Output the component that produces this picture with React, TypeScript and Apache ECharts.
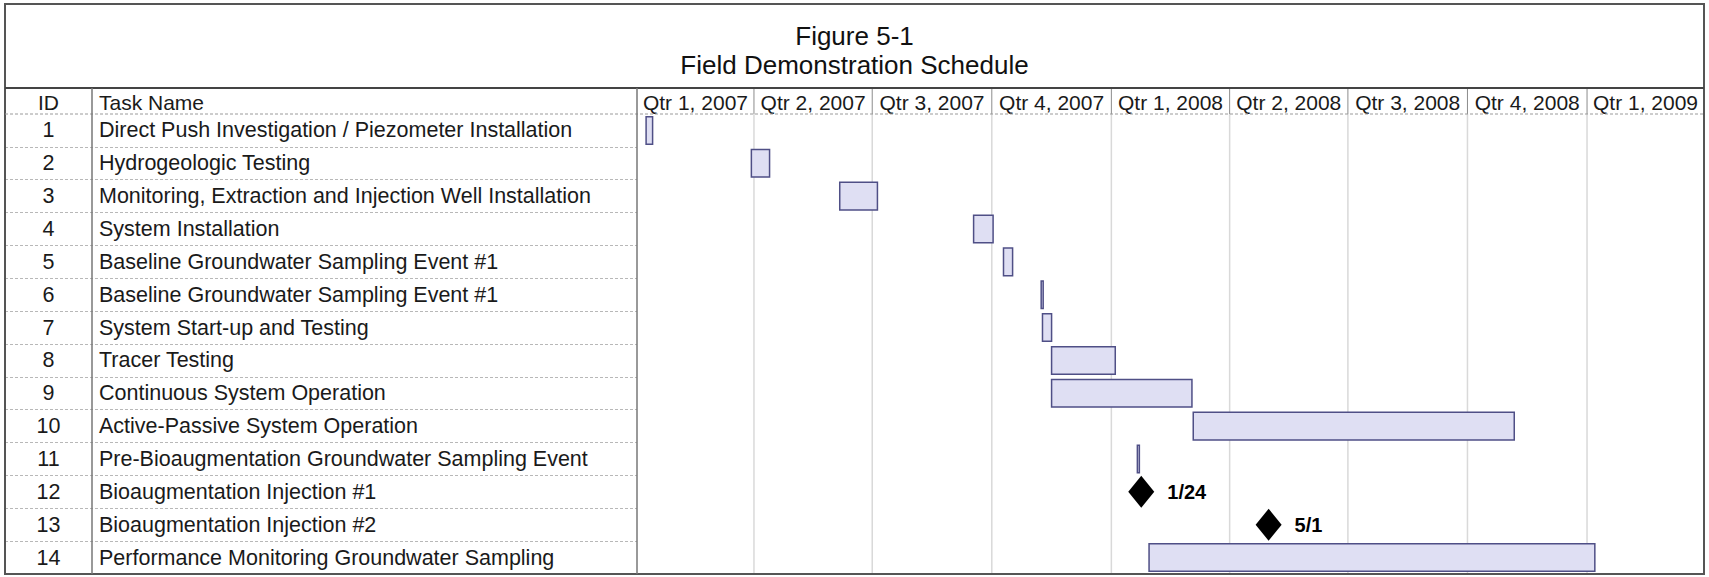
import React, { useEffect, useRef } from 'react';
import * as echarts from 'echarts';

// ---------- data ----------
const taskIds = ['1', '2', '3', '4', '5', '6', '7', '8', '9', '10', '11', '12', '13', '14'];
const taskNames = [
  'Direct Push Investigation / Piezometer Installation',
  'Hydrogeologic Testing',
  'Monitoring, Extraction and Injection Well Installation',
  'System Installation',
  'Baseline Groundwater Sampling Event #1',
  'Baseline Groundwater Sampling Event #1',
  'System Start-up and Testing',
  'Tracer Testing',
  'Continuous System Operation',
  'Active-Passive System Operation',
  'Pre-Bioaugmentation Groundwater Sampling Event',
  'Bioaugmentation Injection #1',
  'Bioaugmentation Injection #2',
  'Performance Monitoring Groundwater Sampling',
];
const barRows = [0, 1, 2, 3, 4, 5, 6, 7, 8, 9, 10, 13];
const barStarts = [
  '2007-01-08', '2007-03-30', '2007-06-06', '2007-09-17', '2007-10-10', '2007-11-08',
  '2007-11-09', '2007-11-16', '2007-11-16', '2008-03-04', '2008-01-21', '2008-01-30',
];
const barEnds = [
  '2007-01-13', '2007-04-13', '2007-07-05', '2007-10-02', '2007-10-17', '2007-11-09',
  '2007-11-16', '2008-01-04', '2008-03-03', '2008-11-06', '2008-01-22', '2009-01-07',
];
const milestoneRows = [11, 12];
const milestoneDates = ['2008-01-24', '2008-05-01'];
const milestoneLabels = ['1/24', '5/1'];
const quarterLabels = [
  'Qtr 1, 2007', 'Qtr 2, 2007', 'Qtr 3, 2007', 'Qtr 4, 2007',
  'Qtr 1, 2008', 'Qtr 2, 2008', 'Qtr 3, 2008', 'Qtr 4, 2008', 'Qtr 1, 2009',
];
const quarterStarts = [
  '2007-01-01', '2007-04-01', '2007-07-01', '2007-10-01', '2008-01-01',
  '2008-04-01', '2008-07-01', '2008-10-01', '2009-01-01', '2009-04-01',
];

// ---------- layout ----------
const W = 1709;
const H = 577;
const X0 = 5;
const X1 = 1704;
const Y0 = 4;
const Y1 = 574;
const HEAD = 88;
const ROWTOP = 114;
const IDSEP = 92;
const TASKSEP = 637;
const TASKX = 99;
const FONT = '"Liberation Sans", Arial, sans-serif';

const t = (s: string) => {
  const [y, m, d] = s.split('-').map(Number);
  return new Date(y, m - 1, d).getTime();
};

export default function App() {
  const ref = useRef<HTMLDivElement>(null);
  useEffect(() => {
    if (!ref.current) return;
    const chart = echarts.init(ref.current, undefined, { renderer: 'svg' });

    const barData = barRows.map((r, i) => [r, t(barStarts[i]), t(barEnds[i])]);
    const quarterData = quarterLabels.map((_, i) => [t(quarterStarts[i]), t(quarterStarts[i + 1]), i]);
    const msData = milestoneRows.map((r, i) => [t(milestoneDates[i]), r]);

    const option: any = {
      animation: false,
      backgroundColor: '#ffffff',
      title: {
        text: 'Figure 5-1\nField Demonstration Schedule',
        left: 'center',
        top: 16,
        textStyle: {
          fontFamily: FONT,
          fontSize: 26,
          fontWeight: 'normal',
          color: '#111',
          lineHeight: 29,
        },
      },
      grid: [
        { left: X0, width: TASKSEP - X0, top: ROWTOP, bottom: H - Y1, outerBoundsMode: 'none', containLabel: false },
        { left: TASKSEP, right: W - X1, top: ROWTOP, bottom: H - Y1, outerBoundsMode: 'none', containLabel: false },
      ],
      xAxis: [
        { type: 'value', gridIndex: 0, min: 0, max: 1, show: false },
        { type: 'time', gridIndex: 1, min: t(quarterStarts[0]), max: t(quarterStarts[quarterStarts.length - 1]), show: false },
      ],
      yAxis: [
        {
          type: 'category', gridIndex: 0, position: 'left', inverse: true, data: taskNames,
          axisLine: { show: false }, axisTick: { show: false },
          splitLine: { show: true, showMinLine: false, showMaxLine: false, lineStyle: { color: '#b8b8b8', type: [3, 2], width: 1 } },
          axisLabel: { inside: true, margin: TASKX - X0, align: 'left', fontFamily: FONT, fontSize: 21.5, color: '#1a1a1a' },
        },
        {
          type: 'category', gridIndex: 0, position: 'left', offset: 0, inverse: true, data: taskIds,
          axisLine: { show: false }, axisTick: { show: false }, splitLine: { show: false },
          axisLabel: { inside: true, margin: (X0 + IDSEP) / 2 - X0, align: 'center', fontFamily: FONT, fontSize: 21.5, color: '#1a1a1a' },
        },
        {
          type: 'category', gridIndex: 1, inverse: true, data: taskIds, show: false,
        },
      ],
      series: [
        {
          type: 'custom', name: 'quarters', xAxisIndex: 1, yAxisIndex: 2, clip: false, silent: true, z: 1,
          data: quarterData,
          renderItem: (params: any, api: any) => {
            const xa = api.coord([api.value(0), 0])[0];
            const xb = api.coord([api.value(1), 0])[0];
            const children: any[] = [
              {
                type: 'text',
                style: {
                  text: quarterLabels[params.dataIndex],
                  x: (xa + xb) / 2, y: (HEAD + ROWTOP) / 2 + 1,
                  align: 'center', verticalAlign: 'middle',
                  fontFamily: FONT, fontSize: 21, fill: '#1a1a1a',
                },
              },
            ];
            if (params.dataIndex > 0) {
              children.push({ type: 'line', shape: { x1: xa, y1: HEAD, x2: xa, y2: ROWTOP }, style: { stroke: '#8c8c8c', lineWidth: 1 } });
              children.push({ type: 'line', shape: { x1: xa, y1: ROWTOP, x2: xa, y2: Y1 }, style: { stroke: '#d9d9d9', lineWidth: 1.5 } });
            }
            return { type: 'group', children };
          },
        },
        {
          type: 'custom', name: 'tasks', xAxisIndex: 1, yAxisIndex: 2, z: 3,
          data: barData,
          encode: { x: [1, 2], y: 0 },
          renderItem: (params: any, api: any) => {
            const row = api.value(0);
            const s = api.coord([api.value(1), row]);
            const e = api.coord([api.value(2), row]);
            const h = api.size([0, 1])[1] * 0.84;
            const w = Math.max(e[0] - s[0], 2);
            return {
              type: 'rect',
              shape: { x: s[0], y: s[1] - h / 2, width: w, height: h },
              style: { fill: '#dfdff3', stroke: '#4f4f86', lineWidth: 1.5 },
            };
          },
        },
        {
          type: 'scatter', name: 'milestones', xAxisIndex: 1, yAxisIndex: 2, z: 4,
          data: msData,
          symbol: 'diamond',
          symbolSize: [26, 32],
          itemStyle: { color: '#000', opacity: 1 },
          label: {
            show: true, position: 'right', distance: 13,
            formatter: (p: any) => milestoneLabels[p.dataIndex],
            fontFamily: FONT, fontSize: 20, fontWeight: 'bold', color: '#000',
          },
        },
      ],
      graphic: [
        { type: 'rect', shape: { x: X0, y: Y0, width: X1 - X0, height: Y1 - Y0 }, style: { fill: 'none', stroke: '#555', lineWidth: 2 }, z: 10 },
        { type: 'line', shape: { x1: X0, y1: HEAD, x2: X1, y2: HEAD }, style: { stroke: '#444', lineWidth: 2 }, z: 10 },
        { type: 'line', shape: { x1: X0, y1: ROWTOP, x2: X1, y2: ROWTOP }, style: { stroke: '#9a9a9a', lineWidth: 1, lineDash: [3, 2] }, z: 10 },
        { type: 'line', shape: { x1: IDSEP, y1: HEAD, x2: IDSEP, y2: Y1 }, style: { stroke: '#777', lineWidth: 1.5 }, z: 10 },
        { type: 'line', shape: { x1: TASKSEP, y1: HEAD, x2: TASKSEP, y2: Y1 }, style: { stroke: '#777', lineWidth: 1.5 }, z: 10 },
        {
          type: 'text', x: (X0 + IDSEP) / 2, y: (HEAD + ROWTOP) / 2 + 1,
          style: { text: 'ID', align: 'center', verticalAlign: 'middle', fontFamily: FONT, fontSize: 21, fill: '#1a1a1a' }, z: 10,
        },
        {
          type: 'text', x: TASKX, y: (HEAD + ROWTOP) / 2 + 1,
          style: { text: 'Task Name', align: 'left', verticalAlign: 'middle', fontFamily: FONT, fontSize: 21, fill: '#1a1a1a' }, z: 10,
        },
      ],
    };

    chart.setOption(option);
    return () => chart.dispose();
  }, []);

  return (
    <div
      ref={ref}
      style={{ position: 'fixed', left: 0, top: 0, width: W, height: H, background: '#fff' }}
    />
  );
}
